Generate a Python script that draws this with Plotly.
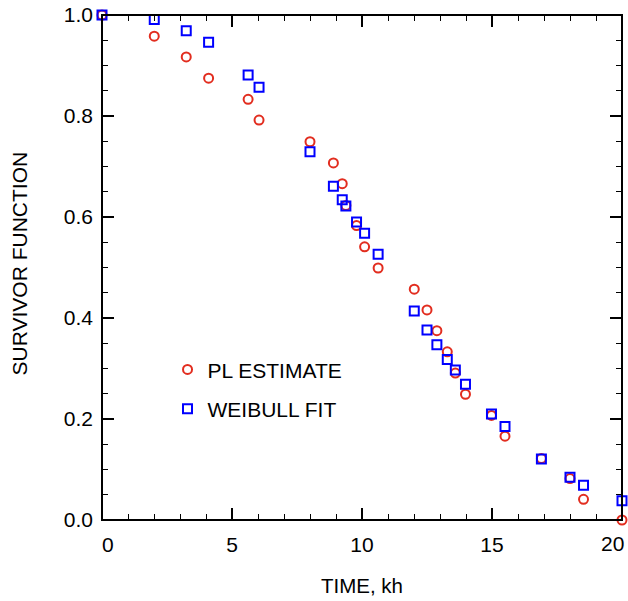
import plotly.graph_objects as go

# survival data, time in kh
time_kh = [0, 2.01, 3.24, 4.10, 5.62, 6.04, 8.0, 8.90, 9.24, 9.38, 9.79, 10.1, 10.62,
           12.01, 12.5, 12.88, 13.28, 13.59, 13.98, 14.98, 15.5, 16.9, 18.0, 18.52, 20.0]
pl_estimate = [1.0, 0.958, 0.917, 0.875, 0.833, 0.792, 0.749, 0.707, 0.666, 0.623, 0.583, 0.541, 0.499,
               0.457, 0.416, 0.375, 0.333, 0.291, 0.249, 0.207, 0.166, 0.122, 0.082, 0.041, 0.0]
weibull_fit = [1.0, 0.991, 0.969, 0.946, 0.881, 0.857, 0.729, 0.661, 0.634, 0.622, 0.590, 0.568, 0.526,
               0.414, 0.376, 0.347, 0.318, 0.297, 0.269, 0.210, 0.185, 0.121, 0.0845, 0.069, 0.038]

x_ticks = [0, 5, 10, 15, 20]
x_labels = ['\u20070', '5', '10', '15', '']   # the 20 is put in below, nudged left like the original
y_ticks = [0, 0.2, 0.4, 0.6, 0.8, 1.0]
y_labels = ['0.0', '0.2', '0.4', '0.6', '0.8', '1.0']

red = '#e22d1f'
blue = '#0000ff'
font = 'Liberation Sans'
k = '#000000'
clear = 'rgba(0,0,0,0)'

fig = go.Figure()

fig.add_trace(go.Scatter(x=time_kh, y=pl_estimate, mode='markers', name='PL ESTIMATE',
	legendgroup='pl', cliponaxis=False,
	marker=dict(symbol='circle-open', size=9, color=red, line=dict(width=2, color=red))))
fig.add_trace(go.Scatter(x=time_kh, y=weibull_fit, mode='markers', name='WEIBULL FIT',
	legendgroup='wb', cliponaxis=False,
	marker=dict(symbol='square-open', size=9, color=blue, line=dict(width=2, color=blue))))
# empty trace so the minor-tick overlay axes get drawn
fig.add_trace(go.Scatter(x=[], y=[], xaxis='x2', yaxis='y2', showlegend=False, hoverinfo='skip'))

labels_only = dict(showline=False, ticks='', showgrid=False, gridcolor=clear, zeroline=False,
	zerolinecolor=clear, automargin=False, tickfont=dict(size=21, color=k), ticklabeloverflow='allow')
tick_only = dict(showline=False, mirror='allticks', ticks='inside', tickwidth=1, tickcolor=k,
	showgrid=False, gridcolor=clear, zeroline=False, zerolinecolor=clear,
	showticklabels=False, automargin=False)

fig.update_layout(
	template='none',
	xaxis=dict(range=[0, 20], tickvals=x_ticks, ticktext=x_labels, ticklabelstandoff=10,
		title=dict(text='TIME, kh', font=dict(size=20.5, color=k), standoff=23), **labels_only),
	yaxis=dict(range=[0, 1], tickvals=y_ticks, ticktext=y_labels, ticklabelstandoff=8, **labels_only),
	# minor ticks
	xaxis2=dict(range=[0, 20], dtick=1, tick0=0, ticklen=6, overlaying='x', anchor='y2', **tick_only),
	yaxis2=dict(range=[0, 1], dtick=0.05, tick0=0, ticklen=6, overlaying='y', anchor='x2', **tick_only),
	width=628, height=601,
	margin=dict(l=102, r=6, t=15, b=81),
	plot_bgcolor='white', paper_bgcolor='white',
	font=dict(family=font, color=k),
	showlegend=True,
	legend=dict(x=0.126, y=0.338, xanchor='left', yanchor='top', bgcolor=clear,
		font=dict(size=21, color=k), traceorder='grouped', tracegroupgap=9),
)

# plot frame
fig.add_shape(type='rect', xref='paper', yref='paper', x0=0, x1=1, y0=0, y1=1,
	line=dict(color=k, width=2), layer='above')

# major ticks, inside on all four sides (2px so they survive whatever eats 1px lines there)
for v in x_ticks:
	for side, ln in [(0, 12), (1, -12)]:
		fig.add_shape(type='line', xref='x', yref='paper', x0=v, x1=v,
			ysizemode='pixel', yanchor=side, y0=0, y1=ln, line=dict(color=k, width=2), layer='above')
for v in y_ticks:
	for side, ln in [(0, 12), (1, -12)]:
		fig.add_shape(type='line', xref='paper', yref='y', y0=v, y1=v,
			xsizemode='pixel', xanchor=side, x0=0, x1=ln, line=dict(color=k, width=2), layer='above')

# last x label sits a bit left of its tick in the original
fig.add_annotation(x=x_ticks[-1], y=0, xref='x', yref='paper', text='20', showarrow=False,
	xanchor='right', yanchor='middle', xshift=4, yshift=-23, font=dict(size=21, color=k))

# y title, placed by hand well clear of the tick labels
fig.add_annotation(x=0, y=0.5, xref='paper', yref='paper', text='SURVIVOR FUNCTION', showarrow=False,
	textangle=-90, xanchor='center', yanchor='middle', xshift=-83, yshift=4,
	font=dict(size=21, color=k))

# page has a default body margin, drop it so the figure sits at 0,0
fig.write_html("out.html", config={'displayModeBar': False},
	post_script="document.body.style.margin='0';")
